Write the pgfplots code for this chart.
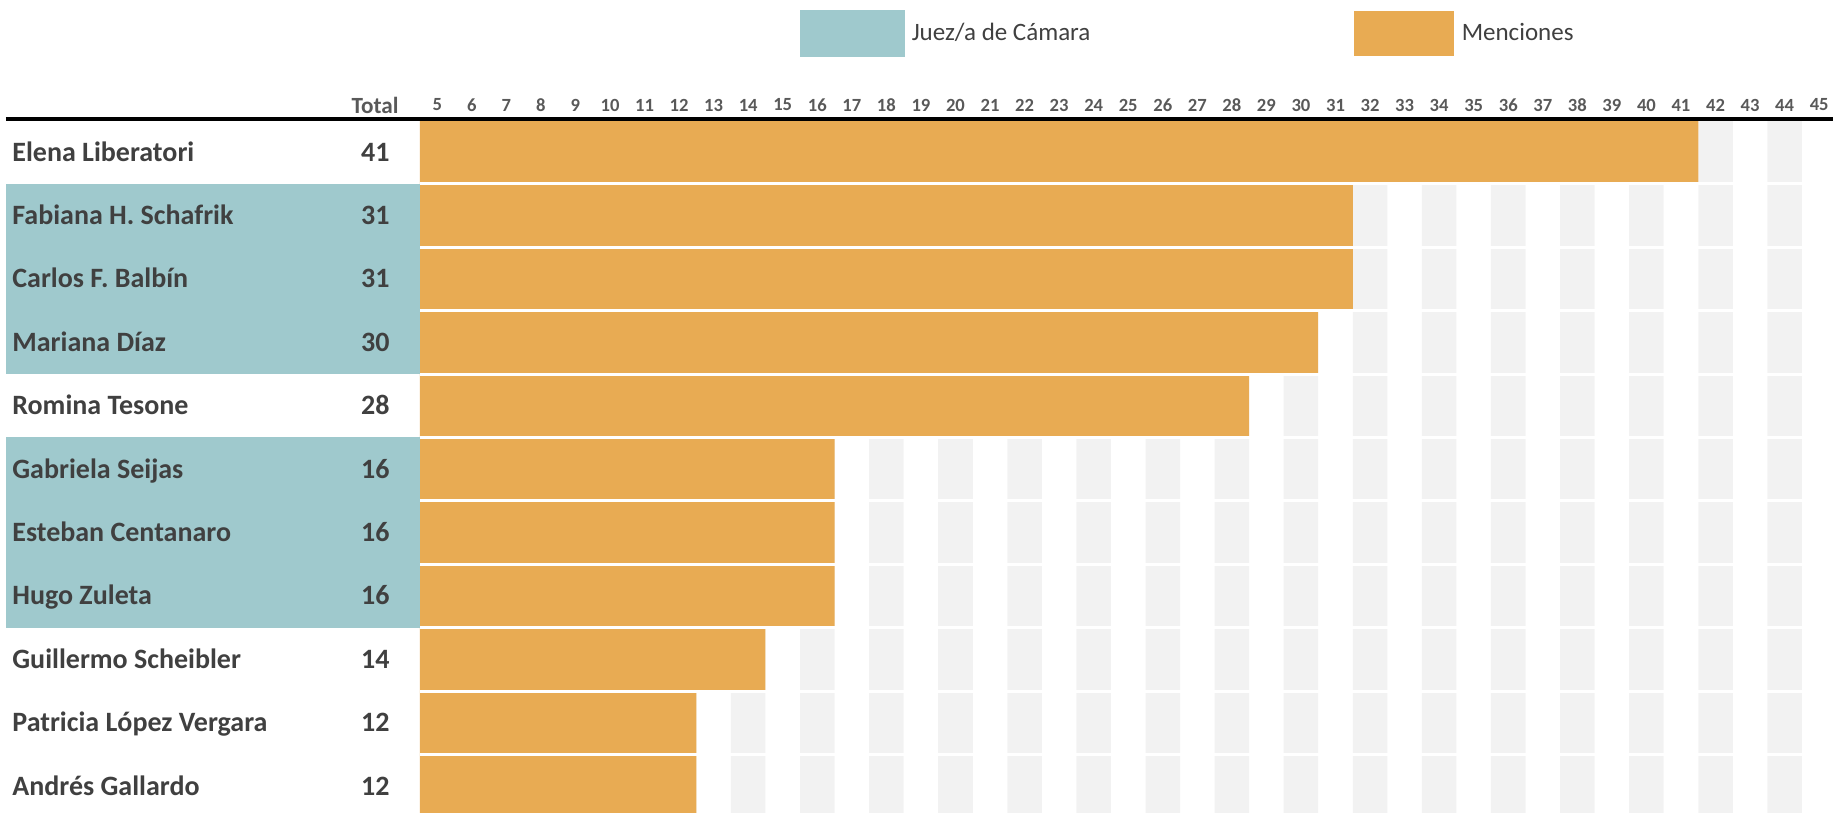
\documentclass[border=0pt]{standalone}
\usepackage{pgfplots}
\pgfplotsset{compat=1.18}
\usepackage{fontspec}
\setmainfont{Carlito}
\definecolor{tealc}{HTML}{9FC9CD}
\definecolor{orangec}{HTML}{E8AB53}
\definecolor{greyc}{HTML}{F2F2F2}
\definecolor{txt}{HTML}{404040}
\definecolor{tickc}{HTML}{595959}
\newcommand{\rowstrut}{\rule[-11.35pt]{0pt}{31.7pt}}
\newcommand{\lab}[2]{\rowstrut\makebox[207pt][l]{\hspace{3pt}#1\hfill\makebox[45pt]{#2}}}
\newcommand{\plain}[2]{\hspace*{3pt}\lab{#1}{#2}}
\newcommand{\judge}[2]{\hspace*{3pt}{\setlength{\fboxsep}{0pt}\colorbox{tealc}{\lab{#1}{#2}}}}
\begin{document}
\begin{tikzpicture}
\begin{axis}[
  scale only axis, width=706.5pt, height=346.25pt,
  xmin=4, xmax=44.9, ymin=0.577, ymax=11.5,
  axis on top,
  axis line style={draw=none},
  major tick length=0pt, minor tick length=0pt,
  xtick={4.5,5.5,...,44.5},
  xticklabels={5,6,7,8,9,10,11,12,13,14,15,16,17,18,19,20,21,22,23,24,25,26,27,28,29,30,31,32,33,34,35,36,37,38,39,40,41,42,43,44,45},
  xticklabel pos=right,
  xticklabel style={font=\fontsize{9.3}{10}\selectfont\bfseries, text=tickc, inner sep=0pt, anchor=center, yshift=7.75pt},
  ytick={1,...,11},
  yticklabels={
    {\plain{Andrés Gallardo}{12}},
    {\plain{Patricia López Vergara}{12}},
    {\plain{Guillermo Scheibler}{14}},
    {\judge{Hugo Zuleta}{16}},
    {\judge{Esteban Centanaro}{16}},
    {\judge{Gabriela Seijas}{16}},
    {\plain{Romina Tesone}{28}},
    {\judge{Mariana Díaz}{30}},
    {\judge{Carlos F. Balbín}{31}},
    {\judge{Fabiana H. Schafrik}{31}},
    {\plain{Elena Liberatori}{41}}},
  yticklabel style={anchor=west, inner sep=0pt, xshift=-210pt, font=\fontsize{14}{16}\selectfont\bfseries, text=txt},
  minor ytick={1.5,2.5,...,10.5},
  yminorgrids, minor grid style={white, line width=1.5pt},
  legend columns=2,
  legend cell align=left,
  legend style={at={(axis description cs:0.2689,1.1256)}, anchor=west, draw=none, fill=none,
    inner sep=0pt, outer sep=0pt, column sep=0pt, row sep=0pt,
    font=\fontsize{12.5}{14}\selectfont, text=txt, nodes={inner sep=0pt}},
]
\addlegendimage{legend image code/.code={\fill[tealc] (0pt,-11.4pt) rectangle (52pt,11.4pt);}}
\addlegendentry{\hspace{3.5pt}\makebox[221pt][l]{Juez/a de Cámara}}
\addplot[ybar, bar width=1, bar shift=0pt, fill=greyc, draw=none, forget plot] coordinates {
  (5.5,12) (7.5,12) (9.5,12) (11.5,12) (13.5,12) (15.5,12) (17.5,12) (19.5,12) (21.5,12) (23.5,12)
  (25.5,12) (27.5,12) (29.5,12) (31.5,12) (33.5,12) (35.5,12) (37.5,12) (39.5,12) (41.5,12) (43.5,12)};
\addplot[xbar, bar width=1, bar shift=0pt, fill=orangec, draw=none,
  legend image code/.code={\fill[orangec] (0pt,-11.4pt) rectangle (50pt,11.4pt);}] coordinates {
  (41,11) (31,10) (31,9) (30,8) (28,7) (16,6) (16,5) (16,4) (14,3) (12,2) (12,1)};
\addlegendentry{\hspace{4pt}Menciones}
\end{axis}
\node[font=\fontsize{11.6}{13}\selectfont\bfseries, text=tickc, inner sep=0pt, anchor=center]
  at ([xshift=-22.5pt,yshift=7.75pt]current axis.north west) {Total};
\draw[line width=1.65pt, black] ([xshift=-207pt,yshift=0.8pt]current axis.north west) -- ([yshift=0.8pt]current axis.north east);
\pgfresetboundingbox
\path[use as bounding box] ([xshift=-210pt]current axis.south west) rectangle ([yshift=60.25pt]current axis.north east);
\end{tikzpicture}
\end{document}
